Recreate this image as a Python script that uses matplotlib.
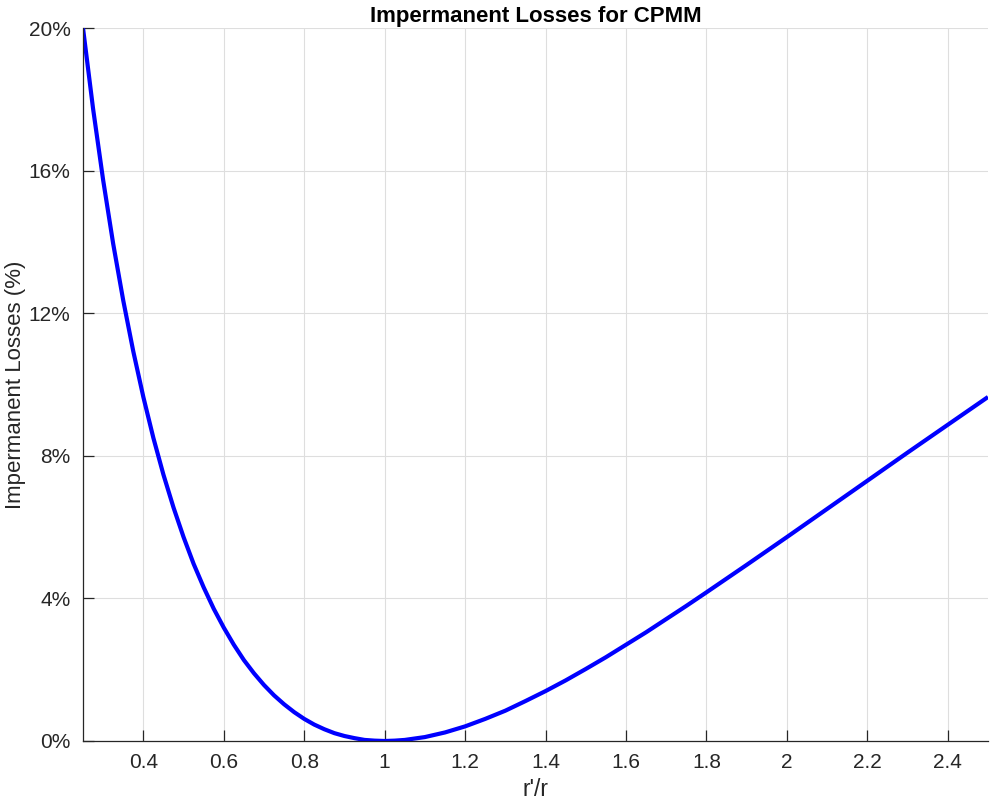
import numpy as np
import matplotlib.pyplot as plt
from matplotlib.ticker import FuncFormatter

plt.rcParams['font.family'] = ['Liberation Sans', 'DejaVu Sans']

# price ratio r'/r and loss (%)
ratio = [0.250, 0.275, 0.300, 0.325, 0.350, 0.375, 0.400, 0.425, 0.450,
         0.475, 0.500, 0.525, 0.550, 0.575, 0.600, 0.625, 0.650, 0.675,
         0.700, 0.725, 0.750, 0.775, 0.800, 0.825, 0.850, 0.875, 0.900,
         0.925, 0.950, 0.975, 1.000, 1.025, 1.050, 1.075, 1.100, 1.150,
         1.200, 1.250, 1.300, 1.350, 1.400, 1.450, 1.500, 1.550, 1.600,
         1.650, 1.700, 1.750, 1.800, 1.900, 2.000, 2.100, 2.200, 2.300,
         2.400, 2.500]
loss = [20.00, 17.74, 15.74, 13.95, 12.36, 10.93, 9.65, 8.50, 7.47,
        6.55, 5.72, 4.97, 4.31, 3.71, 3.18, 2.70, 2.27, 1.90,
        1.57, 1.28, 1.03, 0.81, 0.62, 0.46, 0.33, 0.22, 0.14,
        0.08, 0.03, 0.01, 0.00, 0.01, 0.03, 0.07, 0.11, 0.24,
        0.41, 0.62, 0.85, 1.12, 1.40, 1.70, 2.02, 2.35, 2.70,
        3.05, 3.42, 3.79, 4.17, 4.94, 5.72, 6.51, 7.30, 8.09,
        8.87, 9.65]

xticks = [0.4, 0.6, 0.8, 1, 1.2, 1.4, 1.6, 1.8, 2, 2.2, 2.4]
yticks = [0, 4, 8, 12, 16, 20]

fig = plt.figure(figsize=(9.9, 8.01), dpi=100)
ax = fig.add_axes([83/990, 60/801, 905/990, 713/801])

ax.plot(ratio, loss, color='#0000ff', lw=3.0, solid_capstyle='butt',
        solid_joinstyle='round')

ax.set_xlim(0.25, 2.5)
ax.set_ylim(0, 20)
ax.set_xticks(xticks)
ax.set_yticks(yticks)
ax.xaxis.set_major_formatter(FuncFormatter(lambda v, p: ('%g' % v)))
ax.yaxis.set_major_formatter(FuncFormatter(lambda v, p: '%d%%' % v))

ax.grid(True, color='#dedede', lw=0.8)
ax.set_axisbelow(True)
for s in ['top', 'right']:
    ax.spines[s].set_visible(False)
for s in ['left', 'bottom']:
    ax.spines[s].set_color('#262626')
    ax.spines[s].set_linewidth(0.9)
ax.tick_params(direction='in', length=8, width=0.9, colors='#262626',
               labelsize=15, pad=9)

ax.set_xlabel("r'/r", fontsize=16.5, color='#262626', labelpad=4)
ax.set_ylabel('Impermanent Losses (%)', fontsize=16, color='#262626', labelpad=2)
ax.set_title('Impermanent Losses for CPMM', fontsize=16, fontweight='bold', pad=4)

fig.savefig('out.png', dpi=100)
